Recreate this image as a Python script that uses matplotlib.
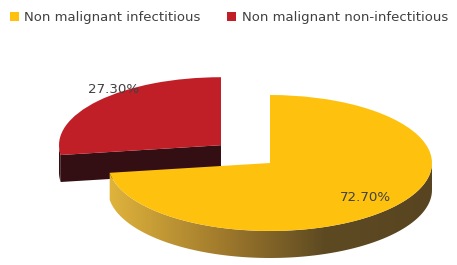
import numpy as np
import matplotlib
matplotlib.use('Agg')
import matplotlib.pyplot as plt
from matplotlib.transforms import Affine2D
from matplotlib.patches import Polygon
from matplotlib.colors import LinearSegmentedColormap

labels = ['Non malignant infectitious', 'Non malignant non-infectitious']
shares = [72.7, 27.3]
top_colors = ['#FEC20E', '#C01F28']
side_colors = ['#7A5F24', '#330E12']
explode = [0, 0.4]

fig = plt.figure(figsize=(4.57, 2.65), dpi=100)
ax = fig.add_axes([0, 0, 1, 1])

wedges, texts, autotexts = ax.pie(shares, colors=top_colors, explode=explode,
                                  startangle=90, counterclock=False,
                                  autopct='%.2f%%', wedgeprops=dict(linewidth=0))

# flatten the pie into a tilted disc (pixel coords, y down)
cx, cy = 270, 163
a, b = 162, 68
depth = 27
tilt = Affine2D().scale(a, -b).translate(cx, cy) + ax.transData


def rim(w, t):
    ox, oy = w.center
    t = np.radians(t)
    return cx + a * (ox + w.r * np.cos(t)), cy - b * (oy + w.r * np.sin(t))


def centre(w):
    ox, oy = w.center
    return cx + a * ox, cy - b * oy


grad = LinearSegmentedColormap.from_list('side', ['#E0B43C', '#A47D2D', '#5E4A22', '#584420'])

for i, w in enumerate(wedges):
    z = 1 + 2 * (len(wedges) - 1 - i)
    w.set_transform(tilt)
    w.set_zorder(z + 1)
    polys = []
    # outer curved wall, front half only
    lo, hi = max(w.theta1, -180), min(w.theta2, 0)
    if hi > lo:
        ts = np.linspace(lo, hi, 80)
        top = [rim(w, t) for t in ts]
        bot = [(x, y + depth) for x, y in top[::-1]]
        polys.append(top + bot)
    # flat cut faces facing the viewer
    for t, n in [(w.theta1, w.theta1 - 90), (w.theta2, w.theta2 + 90)]:
        if np.sin(np.radians(n)) < -1e-6:
            c = centre(w)
            p = rim(w, t)
            polys.append([c, p, (p[0], p[1] + depth), (c[0], c[1] + depth)])
    for pts in polys:
        if i == 0:
            clip = Polygon(pts, closed=True, facecolor='none', edgecolor='none', zorder=z)
            ax.add_patch(clip)
            xs = np.linspace(0, 1, 256)[None, :]
            im = ax.imshow(xs, cmap=grad, aspect='auto', zorder=z,
                           extent=(cx - a, cx + a, cy + b + depth + 5, cy - 10))
            im.set_clip_path(clip)
        else:
            ax.add_patch(Polygon(pts, closed=True, facecolor=side_colors[i],
                                 edgecolor='none', zorder=z))

# percentage labels
label_r = [0.78, 1.05]
label_shift = [0, -10]
for i, (w, t) in enumerate(zip(wedges, autotexts)):
    mid = np.radians((w.theta1 + w.theta2) / 2 + label_shift[i])
    ox, oy = w.center
    t.set_transform(tilt)
    t.set_position((ox + label_r[i] * np.cos(mid), oy + label_r[i] * np.sin(mid)))
    t.set_fontsize(9.6)
    t.set_color('#404040')
    t.set_zorder(10)

ax.legend(wedges, labels, loc='upper left', bbox_to_anchor=(-0.003, 1.0), ncol=2,
          frameon=False, fontsize=9.5, labelcolor='#404040', handlelength=0.7,
          handleheight=0.7, handletextpad=0.4, columnspacing=2.0, borderaxespad=0.45)

ax.set_xlim(0, 457)
ax.set_ylim(265, 0)
ax.set_aspect('auto')
ax.axis('off')

plt.savefig('out.png', dpi=100)
